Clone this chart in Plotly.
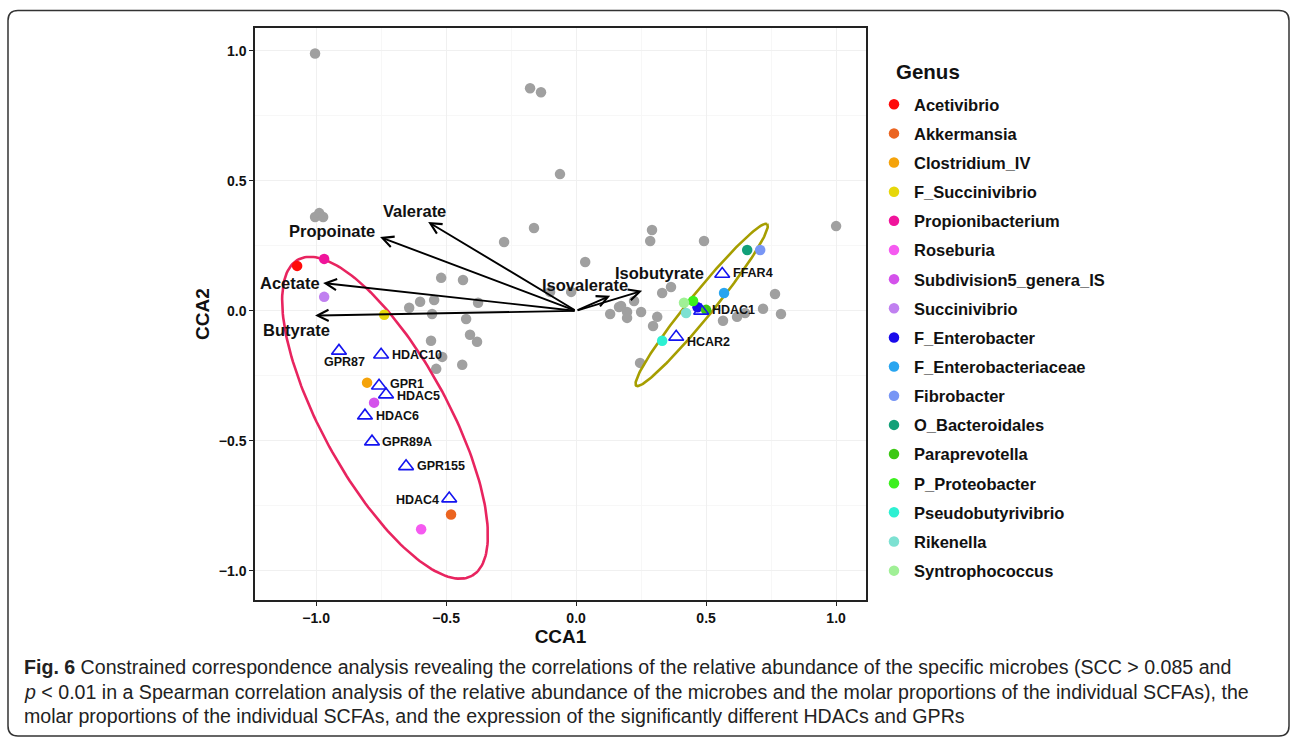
import numpy as np
import plotly.graph_objects as go

# ---------------- data ----------------
genus_names = ["Acetivibrio", "Akkermansia", "Clostridium_IV", "F_Succinivibrio",
               "Propionibacterium", "Roseburia", "Subdivision5_genera_IS", "Succinivibrio",
               "F_Enterobacter", "F_Enterobacteriaceae", "Fibrobacter", "O_Bacteroidales",
               "Paraprevotella", "P_Proteobacter", "Pseudobutyrivibrio", "Rikenella",
               "Syntrophococcus"]
genus_x = [-1.073, -0.481, -0.804, -0.738, -0.969, -0.596, -0.777, -0.969,
           0.467, 0.569, 0.708, 0.658, 0.500, 0.450, 0.331, 0.423, 0.415]
genus_y = [0.173, -0.783, -0.276, -0.015, 0.200, -0.840, -0.353, 0.054,
           0.014, 0.069, 0.234, 0.234, 0.004, 0.038, -0.115, -0.008, 0.031]

other_x = [-1.004, -1.004, -0.988, -0.973, -0.177, -0.135, -0.062, -0.162, -0.277, 0.035,
           -0.519, -0.435, -0.642, -0.600, -0.546, -0.377, -0.554, -0.100, -0.019,
           -0.423, -0.408, -0.381, -0.558, -0.515, -0.438, -0.538,
           0.292, 0.285, 0.492, 1.000, 0.331, 0.365, 0.765, 0.719, 0.788, 0.650,
           0.619, 0.565, 0.131, 0.165, 0.196, 0.223, 0.196, 0.250, 0.312, 0.296,
           0.246, 0.173]
other_y = [0.990, 0.361, 0.376, 0.361, 0.856, 0.841, 0.526, 0.319, 0.265, 0.188,
           0.127, 0.119, 0.012, 0.035, 0.042, 0.031, -0.012, 0.073, 0.073,
           -0.031, -0.092, -0.119, -0.115, -0.177, -0.207, -0.223,
           0.311, 0.269, 0.269, 0.326, 0.069, 0.092, 0.065, 0.008, -0.012, -0.008,
           -0.023, -0.038, -0.012, 0.015, -0.004, 0.038, -0.027, -0.004, -0.023, -0.058,
           -0.200, 0.019]

gene_names = ["FFAR4", "HDAC1", "HCAR2", "GPR87", "HDAC10", "GPR1", "HDAC5",
              "HDAC6", "GPR89A", "GPR155", "HDAC4"]
gene_x = [0.562, 0.481, 0.385, -0.912, -0.750, -0.758, -0.731, -0.812, -0.785, -0.654, -0.488]
gene_y = [0.142, 0.000, -0.100, -0.154, -0.169, -0.288, -0.322, -0.403, -0.503, -0.598, -0.722]

scfa_names = ["Valerate", "Propoinate", "Acetate", "Butyrate", "Isovalerate", "Isobutyrate"]
scfa_x = [-0.569, -0.754, -0.973, -1.004, 0.131, 0.254]
scfa_y = [0.342, 0.284, 0.107, -0.018, 0.058, 0.077]
scfa_label_x = [-0.623, -0.938, -1.100, -1.077, 0.035, 0.319]
scfa_label_y = [0.384, 0.307, 0.107, -0.073, 0.100, 0.146]

# ellipse groups: centre x, centre y, semi-major, semi-minor, angle (deg)
ellipse_cx = [-0.735, 0.483]
ellipse_cy = [-0.411, 0.023]
ellipse_a = [0.694, 0.400]
ellipse_b = [0.2415, 0.047]
ellipse_ang = [-61.2, 51.0]

legend_title = "Genus"
caption_lines = [
    "<b>Fig. 6</b> Constrained correspondence analysis revealing the correlations of the relative abundance of the specific microbes (SCC &gt; 0.085 and",
    "<i>p</i> &lt; 0.01 in a Spearman correlation analysis of the relative abundance of the microbes and the molar proportions of the individual SCFAs), the",
    "molar proportions of the individual SCFAs, and the expression of the significantly different HDACs and GPRs",
]

# ---------------- styles ----------------
genus_colors = ["#FF0A0A", "#EB6420", "#F5A30A", "#E6D70A", "#F0149B", "#F55AF0",
                "#D452EB", "#C080F0", "#1A0AEB", "#28A5F0", "#7896F5", "#12A078",
                "#3CC814", "#3CF01E", "#2DF0D2", "#7DE1D2", "#A0F096"]
ellipse_colors = ["#E8245F", "#A69E00"]
# label offsets (pixels) for gene labels: xshift, yshift, anchor
gene_lab_style = [(9, 1, "left"), (9, 1, "left"), (9, -5, "left"), (6, -11, "center"),
                  (9, 0, "left"), (9, 2, "left"), (9, -1, "left"), (9, 0, "left"),
                  (8, 0, "left"), (9, 0, "left"), (-8, -1, "right")]

W, H = 1290, 738
L, R, T, B = 255, 424, 28, 138
PW, PH = W - L - R, H - T - B
FONT = "Liberation Sans"


def paper(px, py):
    return (px - L) / PW, (H - B - py) / PH


fig = go.Figure()

# grey (non-significant) genera
fig.add_trace(go.Scatter(x=other_x, y=other_y, mode="markers",
                         marker=dict(size=10.5, color="#A0A0A0"),
                         showlegend=False, hoverinfo="skip"))

# ellipses
t = np.linspace(0, 2 * np.pi, 200)
for cx, cy, a, b, ang, col in zip(ellipse_cx, ellipse_cy, ellipse_a, ellipse_b, ellipse_ang, ellipse_colors):
    th = np.deg2rad(ang)
    ex = cx + a * np.cos(t) * np.cos(th) - b * np.sin(t) * np.sin(th)
    ey = cy + a * np.cos(t) * np.sin(th) + b * np.sin(t) * np.cos(th)
    fig.add_trace(go.Scatter(x=ex, y=ey, mode="lines", line=dict(color=col, width=2.6),
                             showlegend=False, hoverinfo="skip"))

# significant genera
for i, (n, x, y, c) in enumerate(zip(genus_names, genus_x, genus_y, genus_colors)):
    fig.add_trace(go.Scatter(x=[x], y=[y], mode="markers", name=n, legendgroup=n,
                             marker=dict(size=10.5, color=c)))

# genes (triangles)
fig.add_trace(go.Scatter(x=gene_x, y=gene_y, mode="markers",
                         marker=dict(symbol="triangle-up-open", size=13, color="#1414F0",
                                     line=dict(width=1.6, color="#1414F0")),
                         showlegend=False, hoverinfo="skip"))

annotations = []
for n, x, y, (xs, ys, anc) in zip(gene_names, gene_x, gene_y, gene_lab_style):
    annotations.append(dict(x=x, y=y, xref="x", yref="y", text=n, showarrow=False,
                            xanchor=anc, yanchor="middle", xshift=xs, yshift=ys,
                            font=dict(family=FONT, size=12.5, color="#111111", weight="bold")))

# SCFA arrows
for x, y in zip(scfa_x, scfa_y):
    annotations.append(dict(x=x, y=y, ax=0, ay=0, xref="x", yref="y", axref="x", ayref="y",
                            text="", showarrow=True, arrowhead=5, arrowsize=1.15,
                            arrowwidth=1.9, arrowcolor="#000000"))
for n, x, y in zip(scfa_names, scfa_label_x, scfa_label_y):
    annotations.append(dict(x=x, y=y, xref="x", yref="y", text=n, showarrow=False,
                            xanchor="center", yanchor="middle",
                            font=dict(family=FONT, size=16.5, color="#111111", weight="bold")))

# legend title
tx, ty = paper(894, 72)
annotations.append(dict(x=tx, y=ty, xref="paper", yref="paper", text=legend_title,
                        showarrow=False, xanchor="left", yanchor="middle",
                        font=dict(family=FONT, size=20.5, color="#111111", weight="bold")))

# caption
for i, line in enumerate(caption_lines):
    px_, py_ = paper(22, 667 + 24.5 * i)
    annotations.append(dict(x=px_, y=py_, xref="paper", yref="paper", text=line,
                            showarrow=False, xanchor="left", yanchor="middle",
                            font=dict(family=FONT, size=19.6, color="#222222")))

# outer rounded frame
fl, ft, fr, fb, rr = 8, 10.5, 1289, 736, 10


def P(px, py):
    x, y = paper(px, py)
    return f"{x:.5f},{y:.5f}"


path = (f"M{P(fl+rr, ft)} L{P(fr-rr, ft)} Q{P(fr, ft)} {P(fr, ft+rr)} "
        f"L{P(fr, fb-rr)} Q{P(fr, fb)} {P(fr-rr, fb)} L{P(fl+rr, fb)} "
        f"Q{P(fl, fb)} {P(fl, fb-rr)} L{P(fl, ft+rr)} Q{P(fl, ft)} {P(fl+rr, ft)} Z")

lx, ly = paper(874, 87)
axis_common = dict(showline=True, mirror=True, linecolor="#222222", linewidth=1.5,
                   ticks="outside", ticklen=4, tickwidth=1.2, tickcolor="#222222",
                   showgrid=True, gridcolor="#F0F0F0", gridwidth=1, zeroline=False,
                   tickfont=dict(family=FONT, size=14, color="#111111", weight="bold"),
                   dtick=0.5, tickformat=".1f",
                   minor=dict(dtick=0.25, showgrid=True, gridcolor="#F7F7F7", gridwidth=1))

fig.update_layout(
    width=W, height=H, margin=dict(l=L, r=R, t=T, b=B, autoexpand=False),
    paper_bgcolor="white", plot_bgcolor="white",
    xaxis=dict(range=[-1.235, 1.115], title=dict(text="CCA1", standoff=2,
               font=dict(family=FONT, size=19, color="#111111", weight="bold")), **axis_common),
    yaxis=dict(range=[-1.112, 1.088], title=dict(text="CCA2", standoff=4,
               font=dict(family=FONT, size=19, color="#111111", weight="bold")), **axis_common),
    legend=dict(x=lx, y=ly, xanchor="left", yanchor="top", tracegroupgap=4.7,
                font=dict(family=FONT, size=16.5, color="#111111", weight="bold"),
                bgcolor="rgba(0,0,0,0)"),
    annotations=annotations,
    shapes=[dict(type="path", path=path, xref="paper", yref="paper",
                 line=dict(color="#333333", width=1.5), layer="below")],
    showlegend=True,
)

fig.write_html("out.html")
